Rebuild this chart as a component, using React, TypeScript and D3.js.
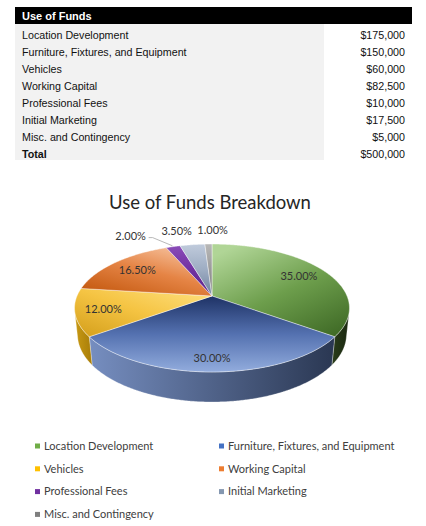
import React from "react";
import * as d3 from "d3";

const categories = [
  "Location Development",
  "Furniture, Fixtures, and Equipment",
  "Vehicles",
  "Working Capital",
  "Professional Fees",
  "Initial Marketing",
  "Misc. and Contingency",
];
const amounts = [175000, 150000, 60000, 82500, 10000, 17500, 5000];
const tableTitle = "Use of Funds";
const totalLabel = "Total";
const chartTitle = "Use of Funds Breakdown";

const legendColors = ["#70ad47", "#4472c4", "#ffc000", "#ed7d31", "#7030a0", "#8497b0", "#7f7f7f"];
const topStops = [
  ["#b0d596", "#6d9e4c", "#3f6a26"],
  ["#1e3265", "#5471b0", "#92acdd"],
  ["#ffe283", "#f5c443", "#d39e1a"],
  ["#f8c9a8", "#e58445", "#c55a11"],
  ["#8a4cb8", "#7030a0", "#5c2487"],
  ["#c0cbdc", "#9dacc2", "#6f819e"],
  ["#b8b8b8", "#9a9a9a", "#7a7a7a"],
];
const sideStops = [
  ["#2a3d1a", "#1a2710"],
  ["#768ec0", "#2a3752"],
  ["#c99a14", "#a87d08"],
  ["#b35410", "#8f420b"],
  ["#5c2487", "#4a1c6d"],
  ["#7d8fab", "#5f6f88"],
  ["#7a7a7a", "#5e5e5e"],
];
// label radius (fraction of pie radius) and nudge, per slice
const labelR = [0.77, 0.85, 0.8, 0.75, 1.3, 1.3, 1.3];
const labelDx = [0, 0, 0, 0, -33, -11, 5];
const labelDy = [0, 0, 0, 0, 2, -1, -1];

const W = 426;
const H = 526;
const CX = 212;
const CY = 296;
const F = 640;
const DIST = 4.74;
const PHI = (27.2 * Math.PI) / 180;
const cphi = Math.cos(PHI);
const sphi = Math.sin(PHI);
const THICK = 0.222;

function project(theta: number, r: number, y: number): [number, number] {
  const X = r * Math.sin(theta);
  const Z = r * Math.cos(theta);
  const depth = DIST - y * sphi + Z * cphi;
  const up = y * cphi + Z * sphi;
  return [CX + (X * F) / depth, CY - (up * F) / depth];
}

function samples(a: number, b: number): number[] {
  const n = Math.max(2, Math.ceil(((b - a) * 180) / Math.PI / 0.5));
  return d3.range(n + 1).map((i) => a + ((b - a) * i) / n);
}

export default function App() {
  const total = d3.sum(amounts);
  const fmt = d3.format("$,");
  const pct = (v: number) => d3.format(".2f")((v / total) * 100) + "%";
  const pie = d3.pie<number>().sort(null).value((d) => d)(amounts);
  const line = d3.line<[number, number]>();
  const apex = project(0, 0, 0);
  const tv = Math.acos(-1 / (DIST * cphi));
  const vis0 = tv;
  const vis1 = 2 * Math.PI - tv;

  const rowY = d3.scaleLinear().domain([0, 1]).range([34.7, 51.7]);

  return (
    <svg width={W} height={H} style={{ position: "absolute", left: 0, top: 0 }}>
      <defs>
        {topStops.map((st, i) => {
          const dirs = [
            [0.2, 0, 0.9, 1],
            [0, 0, 0, 1],
            [1, 0, 0, 1],
            [0.9, 0, 0.2, 1],
            [0, 0, 0, 1],
            [0, 0, 0, 1],
            [0, 0, 0, 1],
          ][i];
          return (
            <linearGradient key={"t" + i} id={"top" + i} x1={dirs[0]} y1={dirs[1]} x2={dirs[2]} y2={dirs[3]}>
              <stop offset="0" stopColor={st[0]} />
              <stop offset="0.5" stopColor={st[1]} />
              <stop offset="1" stopColor={st[2]} />
            </linearGradient>
          );
        })}
        {sideStops.map((st, i) => (
          <linearGradient key={"s" + i} id={"side" + i} x1="0" y1="0" x2="1" y2="0">
            <stop offset="0" stopColor={st[0]} />
            <stop offset="1" stopColor={st[1]} />
          </linearGradient>
        ))}
      </defs>

      {/* Table */}
      <rect x={15} y={7} width={397} height={17} fill="#000" />
      <text x={22} y={19.5} fill="#fff" fontFamily="Liberation Sans, Arial, sans-serif" fontWeight="bold" fontSize={11}>
        {tableTitle}
      </text>
      <rect x={15} y={24} width={309} height={136} fill="#f2f2f2" />
      {categories.map((c, i) => (
        <g key={c} fontFamily="Liberation Sans, Arial, sans-serif" fontSize={10.7} fill="#111">
          <text x={22} y={rowY(i) + 4}>{c}</text>
          <text x={405} y={rowY(i) + 4} textAnchor="end">{fmt(amounts[i])}</text>
        </g>
      ))}
      <g fontFamily="Liberation Sans, Arial, sans-serif" fontSize={10.7} fill="#111">
        <text x={22} y={rowY(7) + 4} fontWeight="bold">{totalLabel}</text>
        <text x={405} y={rowY(7) + 4} textAnchor="end">{fmt(total)}</text>
      </g>

      {/* Chart title */}
      <text x={210} y={209} textAnchor="middle" fontFamily="Lato, sans-serif" fontSize={18.5} fill="#262626">
        {chartTitle}
      </text>

      {/* Sides */}
      {pie.map((p, i) => {
        const a = Math.max(p.startAngle, vis0);
        const b = Math.min(p.endAngle, vis1);
        if (b <= a) return null;
        const ts = samples(a, b);
        const pts: [number, number][] = [
          ...ts.map((t) => project(t, 1, 0)),
          ...ts.slice().reverse().map((t) => project(t, 1, -THICK)),
        ];
        return (
          <path key={"side" + i} d={line(pts) + "Z"} fill={`url(#side${i})`} stroke="#ffffff" strokeOpacity={0.5} strokeWidth={0.6} />
        );
      })}

      {/* Tops */}
      {pie.map((p, i) => {
        const ts = samples(p.startAngle, p.endAngle);
        const pts: [number, number][] = [apex, ...ts.map((t) => project(t, 1, 0))];
        return (
          <path key={"top" + i} d={line(pts) + "Z"} fill={`url(#top${i})`} stroke="#ffffff" strokeOpacity={0.6} strokeWidth={0.7} />
        );
      })}

      {/* Leader line for 2.00% */}
      {(() => {
        const p = pie[4];
        const mid = (p.startAngle + p.endAngle) / 2;
        const e = project(mid, 1.02, 0);
        const lp = project(mid, labelR[4], 0);
        const sx = lp[0] + labelDx[4] + 18;
        const sy = lp[1] + labelDy[4] + 1;
        return <polyline points={`${sx},${sy} ${sx + 4},${sy} ${e[0]},${e[1]}`} fill="none" stroke="#a6a6a6" strokeWidth={0.8} />;
      })()}

      {/* Labels */}
      {pie.map((p, i) => {
        const mid = (p.startAngle + p.endAngle) / 2;
        const [x, y] = project(mid, labelR[i], 0);
        return (
          <text key={"lab" + i} x={x + labelDx[i]} y={y + labelDy[i]} dy="0.35em" textAnchor="middle" fontFamily="Lato, sans-serif" fontSize={11} fill="#333">
            {pct(p.value)}
          </text>
        );
      })}

      {/* Legend */}
      {categories.map((c, i) => {
        const col = i % 2;
        const row = Math.floor(i / 2);
        const x = col === 0 ? 35 : 219;
        const y = 446 + row * 22.8;
        return (
          <g key={"leg" + i}>
            <rect x={x} y={y - 2.5} width={5} height={5} fill={legendColors[i]} />
            <text x={x + 9} y={y} dy="0.35em" fontFamily="Lato, sans-serif" fontSize={11} fill="#404040">
              {c}
            </text>
          </g>
        );
      })}
    </svg>
  );
}
